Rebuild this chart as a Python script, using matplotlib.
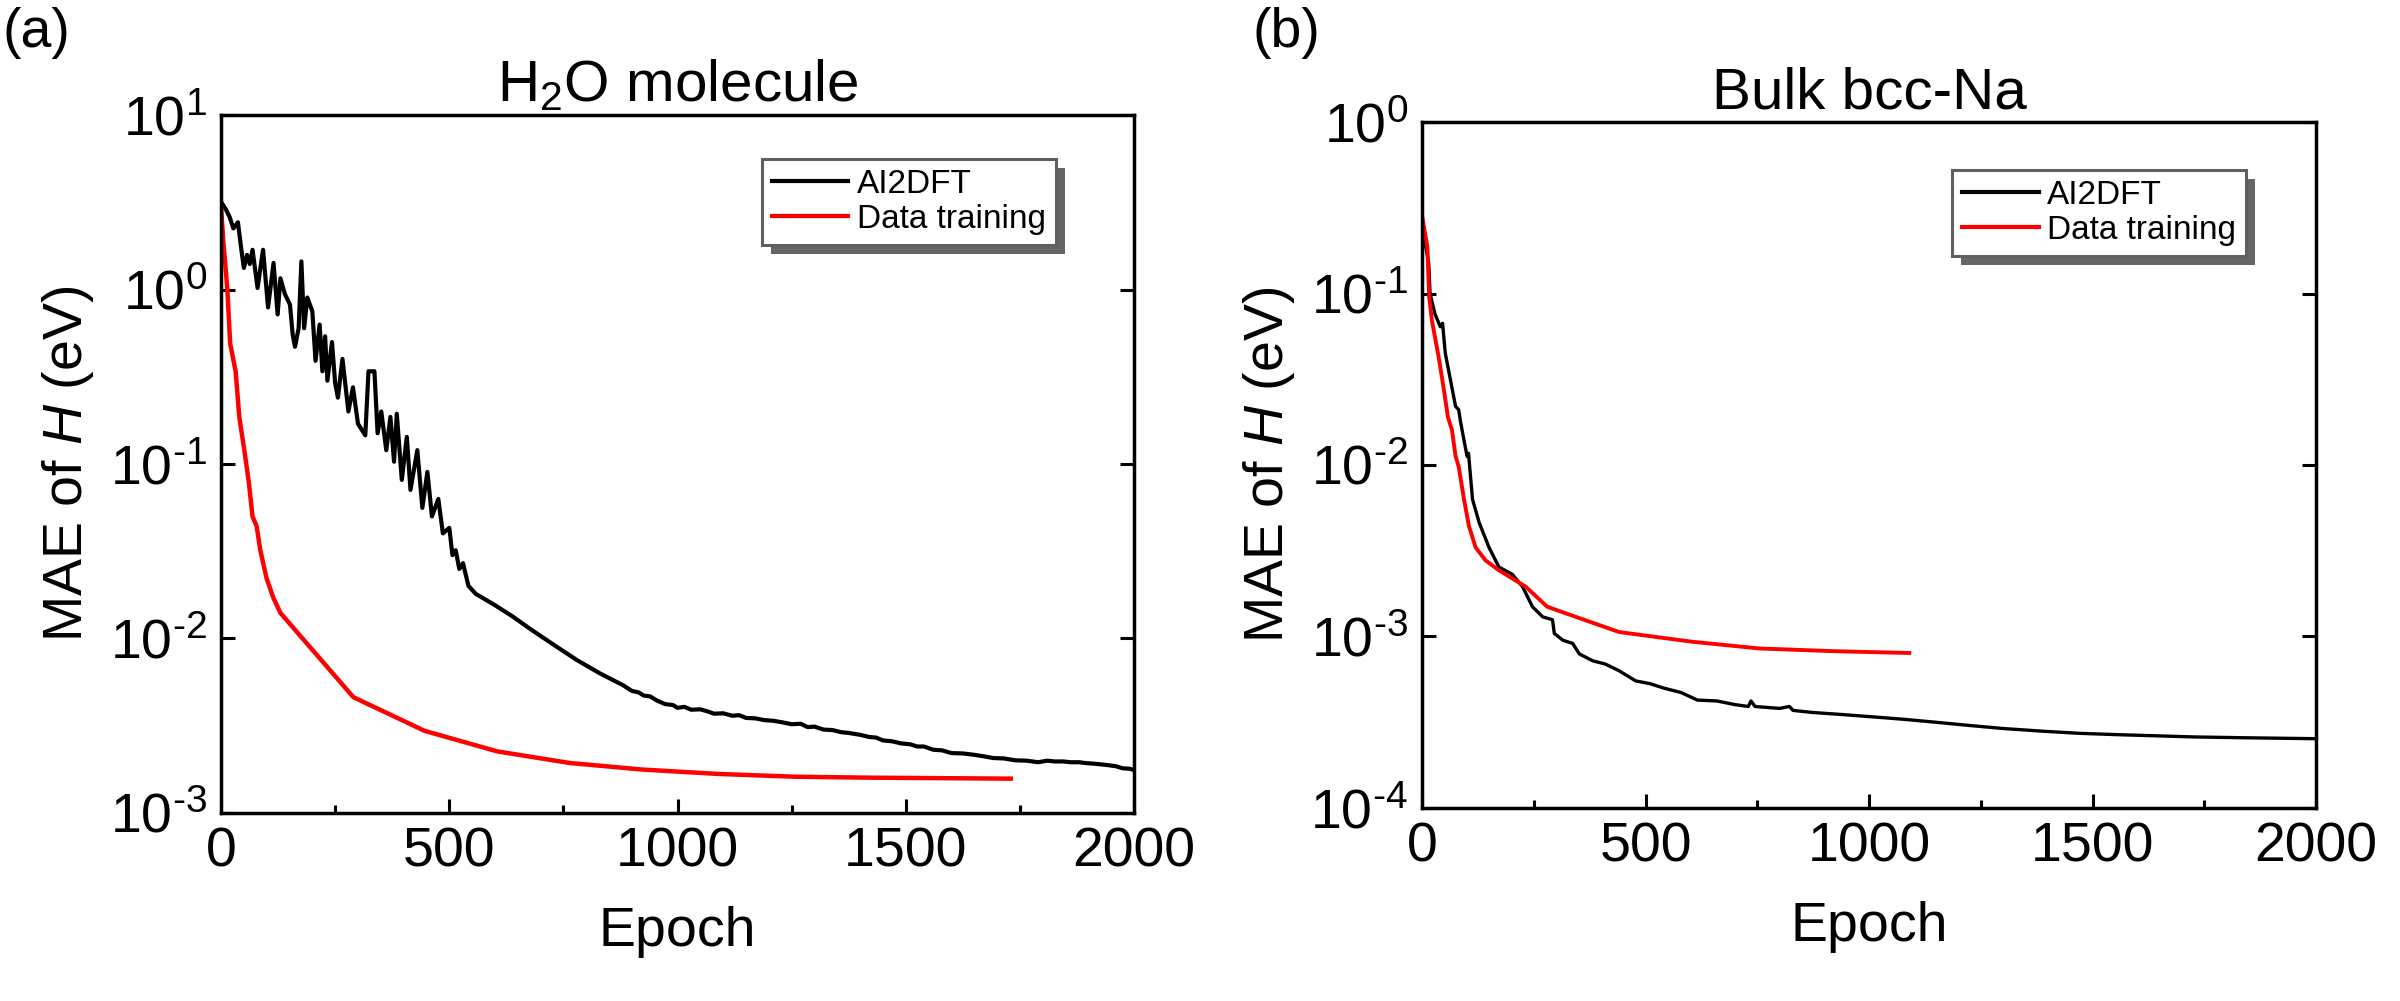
import numpy as np
import matplotlib.pyplot as plt
from matplotlib.patches import Rectangle
from matplotlib.ticker import MultipleLocator, LogLocator, NullLocator, FuncFormatter

plt.rcParams['font.family'] = ['Liberation Sans', 'DejaVu Sans']
plt.rcParams['mathtext.fontset'] = 'custom'
plt.rcParams['mathtext.rm'] = 'Liberation Sans'
plt.rcParams['mathtext.it'] = 'Liberation Sans:italic'
plt.rcParams['mathtext.bf'] = 'Liberation Sans:bold'

# (a) H2O molecule
h2o_ai_epoch = [0, 10, 19, 27, 37, 44, 50, 57, 63, 69, 80, 92, 103, 115, 124, 130, 140, 151, 157, 162,
                170, 176, 182, 189, 200, 207, 216, 222, 228, 233, 243, 250, 256, 266, 279, 289, 300, 316,
                323, 336, 343, 351, 362, 371, 379, 385, 396, 407, 415, 430, 441, 452, 462, 476, 486, 500,
                507, 514, 522, 530, 542, 558, 574, 600, 638, 680, 734, 780, 830, 880, 900, 915, 926, 940,
                955, 973, 990, 1000, 1015, 1030, 1050, 1065, 1080, 1100, 1120, 1135, 1150, 1170, 1190,
                1210, 1230, 1250, 1270, 1285, 1300, 1320, 1340, 1358, 1375, 1400, 1420, 1435, 1450, 1470,
                1490, 1510, 1525, 1540, 1560, 1580, 1600, 1625, 1650, 1670, 1692, 1715, 1740, 1765, 1790,
                1810, 1826, 1845, 1860, 1880, 1893, 1915, 1940, 1960, 1975, 1990, 2000]
h2o_ai_mae = [3.18, 2.9, 2.6, 2.24, 2.43, 1.73, 1.33, 1.58, 1.40, 1.69, 1.02, 1.69, 0.79, 1.42, 0.72, 1.16,
              0.94, 0.82, 0.55, 0.47, 0.6, 1.45, 0.6, 0.9, 0.75, 0.39, 0.63, 0.34, 0.54, 0.30, 0.50, 0.29,
              0.24, 0.40, 0.20, 0.275, 0.17, 0.146, 0.34, 0.34, 0.15, 0.20, 0.12, 0.186, 0.103, 0.194,
              0.081, 0.143, 0.071, 0.12, 0.056, 0.090, 0.050, 0.063, 0.040, 0.043, 0.030, 0.032, 0.025,
              0.027, 0.020, 0.018, 0.017, 0.0155, 0.0134, 0.0112, 0.0090, 0.0075, 0.0063, 0.0054,
              0.0050, 0.0049, 0.0047, 0.00465, 0.0044, 0.0042, 0.00415, 0.0040, 0.00405, 0.0039,
              0.00392, 0.00382, 0.0037, 0.00372, 0.0036, 0.00363, 0.0035, 0.00348, 0.0034, 0.00337,
              0.0033, 0.00322, 0.00324, 0.0031, 0.00312, 0.0030, 0.00298, 0.0029, 0.00287, 0.0028,
              0.00272, 0.00270, 0.0026, 0.00257, 0.0025, 0.00247, 0.0024, 0.0024, 0.0023, 0.00228,
              0.0022, 0.00219, 0.00215, 0.00211, 0.00206, 0.00205, 0.0020, 0.00199, 0.00195, 0.00199,
              0.00197, 0.00197, 0.00195, 0.00195, 0.00193, 0.00191, 0.00188, 0.00185, 0.0018, 0.00179,
              0.00176]
h2o_dt_epoch = [0, 5, 10, 14, 20, 32, 40, 52, 61, 69, 78, 86, 100, 115, 130, 290, 446, 605, 764, 923,
                1090, 1258, 1425, 1730]
h2o_dt_mae = [2.98, 1.88, 1.33, 0.98, 0.49, 0.34, 0.186, 0.115, 0.078, 0.050, 0.044, 0.032, 0.022,
              0.017, 0.0140, 0.0046, 0.00295, 0.00225, 0.00193, 0.00177, 0.00167, 0.00161, 0.00159,
              0.00157]

# (b) Bulk bcc-Na
na_ai_epoch = [0, 8, 15, 18, 29, 41, 46, 52, 64, 75, 82, 86, 94, 101, 104, 113, 128, 150, 172, 202, 225,
               247, 270, 292, 296, 315, 337, 352, 382, 410, 441, 478, 510, 540, 580, 616, 660, 700, 730,
               736, 745, 800, 822, 830, 873, 940, 1010, 1080, 1147, 1220, 1301, 1387, 1470, 1558, 1729,
               1850, 2000]
na_ai_mae = [0.22, 0.19, 0.15, 0.10, 0.076, 0.064, 0.067, 0.045, 0.031, 0.022, 0.021, 0.018, 0.0139,
             0.0112, 0.0117, 0.0063, 0.0046, 0.0033, 0.00254, 0.0023, 0.00195, 0.00149, 0.0013, 0.00125,
             0.00104, 0.00095, 0.00091, 0.00079, 0.00072, 0.00069, 0.00063, 0.00055, 0.00053, 0.00050,
             0.00047, 0.000425, 0.00042, 0.00040, 0.00039, 0.00042, 0.00039, 0.00038, 0.00039, 0.00037,
             0.00036, 0.00035, 0.000339, 0.000328, 0.000316, 0.000303, 0.00029, 0.00028, 0.000272,
             0.000267, 0.000259, 0.000256, 0.000253]
na_dt_epoch = [0, 12, 16, 22, 37, 48, 58, 67, 75, 82, 94, 105, 120, 142, 172, 232, 280, 344, 441, 605,
               755, 920, 1090]
na_dt_mae = [0.286, 0.187, 0.096, 0.070, 0.043, 0.0285, 0.019, 0.016, 0.0113, 0.0098, 0.0063, 0.0044,
             0.0033, 0.00278, 0.00243, 0.00195, 0.00149, 0.0013, 0.00106, 0.00093, 0.00085, 0.00082,
             0.00080]

fig = plt.figure(figsize=(24, 10.01), dpi=100)
ax1 = fig.add_axes([0.0921, 0.188, 0.3804, 0.697])
ax2 = fig.add_axes([0.5925, 0.193, 0.3725, 0.685])


def pow_label(v, pos):
    return r'$10^{\text{%d}}$' % int(round(np.log10(v)))


def style(ax, ylo, yhi, title):
    ax.set_yscale('log')
    ax.set_xlim(0, 2000)
    ax.set_ylim(ylo, yhi)
    ax.xaxis.set_major_locator(MultipleLocator(500))
    ax.xaxis.set_minor_locator(MultipleLocator(250))
    ax.yaxis.set_major_locator(LogLocator(base=10, numticks=10))
    ax.yaxis.set_minor_locator(NullLocator())
    ax.yaxis.set_major_formatter(FuncFormatter(pow_label))
    for s in ax.spines.values():
        s.set_linewidth(2.5)
    ax.tick_params(axis='x', which='major', direction='in', length=10, width=2.2, labelsize=40, pad=10)
    ax.tick_params(axis='x', which='minor', direction='in', length=5.5, width=2.2)
    ax.tick_params(axis='y', which='major', direction='in', length=10, width=2.2, labelsize=40, pad=10,
                   right=True)
    ax.set_xlabel('Epoch', fontsize=40, labelpad=20)
    ax.set_ylabel(r'MAE of $\mathit{H}$ (eV)', fontsize=40, labelpad=10)
    ax.set_title(title, fontsize=42, pad=10)


def legend_with_shadow(ax, anchor):
    leg = ax.legend(loc='upper left', bbox_to_anchor=anchor, fontsize=24, frameon=True, fancybox=False,
                    framealpha=1, handlelength=2.3, handletextpad=0.25, labelspacing=0.12,
                    borderpad=0.3, borderaxespad=0)
    leg.get_frame().set_edgecolor('#5f5f5f')
    leg.get_frame().set_linewidth(2.2)
    for h in leg.get_lines():
        h.set_linewidth(3)
    return leg


ax1.plot(h2o_ai_epoch, h2o_ai_mae, color='black', lw=3.0, label='AI2DFT')
ax1.plot(h2o_dt_epoch, h2o_dt_mae, color='red', lw=3.2, label='Data training')
style(ax1, 1e-3, 1e1, r'H$_2$O molecule')
leg1 = legend_with_shadow(ax1, (0.592, 0.937))

ax2.plot(na_ai_epoch, na_ai_mae, color='black', lw=2.4, label='AI2DFT')
ax2.plot(na_dt_epoch, na_dt_mae, color='red', lw=2.8, label='Data training')
style(ax2, 1e-4, 1e0, 'Bulk bcc-Na')
leg2 = legend_with_shadow(ax2, (0.593, 0.93))

fig.text(0.001, 0.993, '(a)', fontsize=40, ha='left', va='top')
fig.text(0.522, 0.993, '(b)', fontsize=40, ha='left', va='top')

# grey drop shadow behind each legend box
fig.canvas.draw()
for ax, leg in [(ax1, leg1), (ax2, leg2)]:
    bb = leg.get_window_extent()
    bb = bb.translated(9, -9).transformed(ax.transAxes.inverted())
    ax.add_patch(Rectangle((bb.x0, bb.y0), bb.width, bb.height, transform=ax.transAxes,
                           facecolor='#666666', edgecolor='none', zorder=4.9, clip_on=False))

fig.savefig('out.png', dpi=100)
